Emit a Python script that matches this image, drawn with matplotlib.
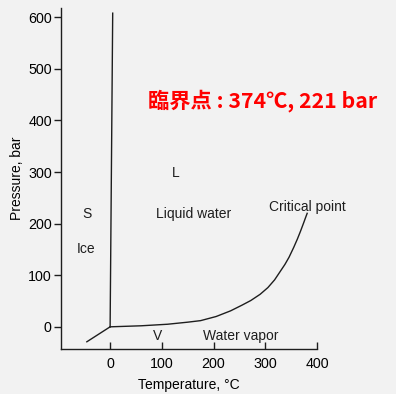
import matplotlib
matplotlib.use("Agg")
import matplotlib.pyplot as plt

plt.rcParams['font.family'] = ['Liberation Sans', 'DejaVu Sans']

# phase boundaries of water (T in degC, P in bar)
melt_T = [0, 5]
melt_P = [0, 608]
subl_T = [-45, 0]
subl_P = [-29, 0]
vap_T = [0, 60, 111, 150, 175, 205, 233, 255, 272, 290, 305, 318, 330, 338, 346, 355, 362, 368, 374, 378, 381]
vap_P = [0, 2, 5, 9, 12, 20, 31, 42, 51, 63, 76, 91, 109, 121, 135, 154, 170, 185, 201, 212, 220]

x_ticks = [0, 100, 200, 300, 400]
y_ticks = [0, 100, 200, 300, 400, 500, 600]

bg = '#f2f2f2'
ink = '#1e1e1e'
fs = 10

fig = plt.figure(figsize=(3.96, 3.94), dpi=100, facecolor=bg)
ax = fig.add_axes([0.1553, 0.1142, 0.6452, 0.8655], facecolor=bg)

ax.plot(melt_T, melt_P, color=ink, lw=1.0)
ax.plot(subl_T, subl_P, color=ink, lw=1.0)
ax.plot(vap_T, vap_P, color=ink, lw=1.0)

ax.set_xlim(-94, 400)
ax.set_ylim(-43, 618)
ax.set_xticks(x_ticks)
ax.set_yticks(y_ticks)
ax.tick_params(axis='x', direction='in', length=5, width=1, color=ink, labelsize=10.3, pad=6)
ax.tick_params(axis='y', direction='out', length=5, width=1, color=ink, labelsize=10.3, pad=2)
for s in ['top', 'right']:
    ax.spines[s].set_visible(False)
for s in ['left', 'bottom']:
    ax.spines[s].set_color(ink)
    ax.spines[s].set_linewidth(1.0)

ax.set_xlabel('Temperature, °C', fontsize=fs, labelpad=5)
ax.set_ylabel('Pressure, bar', fontsize=fs, labelpad=3)

lab = dict(fontsize=fs, color=ink, ha='center', va='center')
ax.text(-45, 218, 'S', **lab)
ax.text(-47, 150, 'Ice', **lab)
ax.text(126, 298, 'L', **lab)
ax.text(161, 218, 'Liquid water', **lab)
ax.text(382, 232, 'Critical point', **lab)
ax.text(91, -18, 'V', **lab)
ax.text(252, -18, 'Water vapor', **lab)

fig.text(148 / 396, 1 - 101 / 394, '臨界点 : 374℃, 221 bar', color='#ff0000',
         fontsize=15.3, fontweight='bold', ha='left', va='center',
         family=['Noto Sans CJK JP', 'DejaVu Sans'])

fig.savefig('out.png', dpi=100, facecolor=bg)
